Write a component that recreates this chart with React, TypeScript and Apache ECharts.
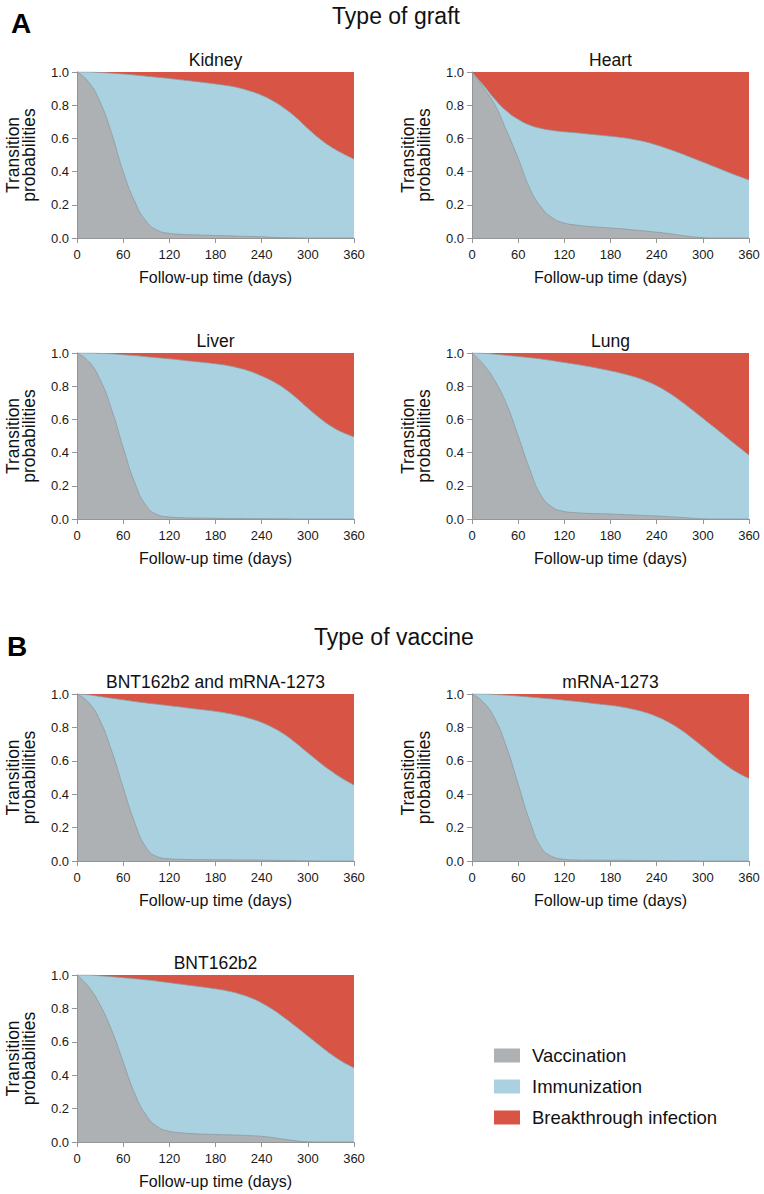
import React, { useEffect, useRef } from "react";
import * as echarts from "echarts";

// Follow-up time (days)
const days = [0, 15, 30, 45, 60, 75, 90, 105, 120, 135, 150, 165, 180, 195, 210, 225, 240, 255, 270, 285, 300, 315, 330, 345, 360];
const xTicks = [0, 60, 120, 180, 240, 300, 360];
const states = ["Vaccination", "Immunization", "Breakthrough infection"];

// Upper edge of the grey band (probability of still being in "Vaccination")
// and upper edge of the blue band (Vaccination + Immunization = not yet infected)
const kidneyVaccination = [1, 0.94, 0.82, 0.63, 0.4, 0.22, 0.1, 0.045, 0.028, 0.022, 0.019, 0.017, 0.015, 0.013, 0.011, 0.009, 0.007, 0.004, 0.002, 0.001, 0, 0, 0, 0, 0];
const kidneyNotInfected = [1, 1, 0.997, 0.993, 0.988, 0.982, 0.975, 0.968, 0.961, 0.953, 0.945, 0.937, 0.928, 0.918, 0.905, 0.885, 0.86, 0.825, 0.78, 0.725, 0.66, 0.6, 0.55, 0.51, 0.475];

const heartVaccination = [1, 0.905, 0.8, 0.645, 0.48, 0.3, 0.185, 0.12, 0.09, 0.078, 0.07, 0.065, 0.06, 0.055, 0.048, 0.042, 0.035, 0.027, 0.017, 0.008, 0.002, 0, 0, 0, 0];
const heartNotInfected = [1, 0.92, 0.835, 0.765, 0.715, 0.68, 0.66, 0.648, 0.64, 0.634, 0.627, 0.62, 0.613, 0.605, 0.594, 0.58, 0.56, 0.537, 0.512, 0.485, 0.458, 0.43, 0.402, 0.375, 0.35];

const liverVaccination = [1, 0.95, 0.84, 0.66, 0.43, 0.22, 0.08, 0.025, 0.012, 0.008, 0.006, 0.005, 0.004, 0.003, 0.003, 0.002, 0.002, 0.001, 0.001, 0, 0, 0, 0, 0, 0];
const liverNotInfected = [1, 1, 0.998, 0.995, 0.99, 0.985, 0.978, 0.972, 0.965, 0.958, 0.95, 0.943, 0.935, 0.925, 0.91, 0.89, 0.862, 0.828, 0.785, 0.73, 0.668, 0.61, 0.56, 0.522, 0.495];

const lungVaccination = [1, 0.93, 0.83, 0.69, 0.5, 0.3, 0.14, 0.07, 0.045, 0.038, 0.034, 0.032, 0.03, 0.027, 0.024, 0.021, 0.018, 0.014, 0.01, 0.005, 0.001, 0, 0, 0, 0];
const lungNotInfected = [1, 0.998, 0.993, 0.986, 0.979, 0.972, 0.964, 0.954, 0.943, 0.932, 0.92, 0.907, 0.893, 0.877, 0.858, 0.834, 0.803, 0.763, 0.715, 0.662, 0.607, 0.552, 0.496, 0.44, 0.385];

const bothVaccination = [1, 0.95, 0.84, 0.66, 0.44, 0.23, 0.08, 0.025, 0.013, 0.01, 0.009, 0.008, 0.007, 0.007, 0.006, 0.006, 0.005, 0.004, 0.003, 0.002, 0.001, 0, 0, 0, 0];
const bothNotInfected = [1, 0.995, 0.985, 0.975, 0.965, 0.955, 0.946, 0.938, 0.93, 0.922, 0.913, 0.905, 0.896, 0.885, 0.871, 0.853, 0.83, 0.798, 0.757, 0.705, 0.648, 0.592, 0.54, 0.494, 0.455];

const mrnaVaccination = [1, 0.95, 0.85, 0.68, 0.46, 0.24, 0.08, 0.025, 0.01, 0.006, 0.005, 0.005, 0.004, 0.004, 0.003, 0.003, 0.002, 0.002, 0.001, 0.001, 0, 0, 0, 0, 0];
const mrnaNotInfected = [1, 1, 0.997, 0.993, 0.988, 0.982, 0.976, 0.97, 0.963, 0.956, 0.948, 0.94, 0.932, 0.922, 0.908, 0.89, 0.865, 0.832, 0.79, 0.74, 0.685, 0.628, 0.575, 0.53, 0.495];

const bntVaccination = [1, 0.93, 0.82, 0.67, 0.48, 0.29, 0.16, 0.09, 0.064, 0.055, 0.05, 0.047, 0.045, 0.043, 0.041, 0.038, 0.034, 0.026, 0.016, 0.007, 0.001, 0, 0, 0, 0];
const bntNotInfected = [1, 1, 0.995, 0.99, 0.984, 0.978, 0.971, 0.963, 0.954, 0.945, 0.936, 0.927, 0.917, 0.905, 0.888, 0.865, 0.833, 0.792, 0.743, 0.69, 0.635, 0.58, 0.527, 0.481, 0.445];

const FONT = "'Liberation Sans', Arial, Helvetica, sans-serif";
const COLORS = ["#aeb1b4", "#aad1e0", "#d85444"];
const EDGE = "#8e999f";
const AXIS = "#959595";

const panels = [
  { title: "Kidney", vacc: kidneyVaccination, upper: kidneyNotInfected, left: 77, top: 72, height: 166 },
  { title: "Heart", vacc: heartVaccination, upper: heartNotInfected, left: 472, top: 72, height: 166 },
  { title: "Liver", vacc: liverVaccination, upper: liverNotInfected, left: 77, top: 353, height: 166 },
  { title: "Lung", vacc: lungVaccination, upper: lungNotInfected, left: 472, top: 353, height: 166 },
  { title: "BNT162b2 and mRNA-1273", vacc: bothVaccination, upper: bothNotInfected, left: 77, top: 694, height: 167 },
  { title: "mRNA-1273", vacc: mrnaVaccination, upper: mrnaNotInfected, left: 472, top: 694, height: 167 },
  { title: "BNT162b2", vacc: bntVaccination, upper: bntNotInfected, left: 77, top: 975, height: 167 },
];
const PW = 277;

export default function App() {
  const ref = useRef<HTMLDivElement>(null);
  useEffect(() => {
    if (!ref.current) return;
    const chart = echarts.init(ref.current, undefined, { renderer: "svg" });
    const grids: any[] = [];
    const xAxes: any[] = [];
    const yAxes: any[] = [];
    const series: any[] = [];
    const graphics: any[] = [];

    panels.forEach((p, i) => {
      grids.push({ left: p.left, top: p.top, width: PW, height: p.height, containLabel: false, outerBoundsMode: "none" });
      xAxes.push({
        type: "value", gridIndex: i, min: xTicks[0], max: xTicks[xTicks.length - 1], interval: 60,
        axisLine: { show: true, onZero: false, lineStyle: { color: AXIS, width: 1 } },
        axisTick: { show: true, length: 5, lineStyle: { color: AXIS } },
        splitLine: { show: false },
        axisLabel: { fontSize: 13, color: "#1a1a1a", fontFamily: FONT, margin: 10 },
        name: "Follow-up time (days)", nameLocation: "middle", nameGap: 31,
        nameTextStyle: { fontSize: 16, color: "#111", fontFamily: FONT },
        z: 5,
      });
      yAxes.push({
        type: "value", gridIndex: i, min: 0, max: 1, interval: 0.2,
        axisLine: { show: true, lineStyle: { color: AXIS, width: 1 } },
        axisTick: { show: true, length: 5, lineStyle: { color: AXIS } },
        splitLine: { show: false },
        axisLabel: { fontSize: 13, color: "#1a1a1a", fontFamily: FONT, margin: 8, formatter: (v: number) => v.toFixed(1) },
        name: "Transition\nprobabilities", nameLocation: "middle", nameGap: 40,
        nameTextStyle: { fontSize: 17.5, lineHeight: 16, color: "#111", fontFamily: FONT },
        z: 5,
      });
      // state occupation probabilities
      const vaccination = p.vacc;
      const immunization = p.upper.map((u, k) => u - p.vacc[k]);
      const infection = p.upper.map((u) => 1 - u);
      // cumulative upper edges, drawn back to front: red (all states), blue, grey
      const edges = [
        vaccination.map((v, k) => v + immunization[k] + infection[k]),
        vaccination.map((v, k) => v + immunization[k]),
        vaccination,
      ];
      const stateIndex = [2, 1, 0];
      edges.forEach((arr, e) => {
        const s = stateIndex[e];
        series.push({
          type: "line", name: states[s], xAxisIndex: i, yAxisIndex: i,
          smooth: 0.5, symbol: "none", showSymbol: false, silent: true,
          data: days.map((d, k) => [d, arr[k]]),
          lineStyle: { width: s === 2 ? 0 : 0.8, color: EDGE },
          itemStyle: { color: COLORS[s] },
          areaStyle: { color: COLORS[s], opacity: 1, origin: "start" },
          z: 2,
        });
      });
      graphics.push({
        type: "text", x: p.left + PW / 2, y: p.top - 12,
        style: { text: p.title, fontSize: 17.5, fontFamily: FONT, fill: "#111", align: "center", verticalAlign: "middle" },
      });
    });

    graphics.push(
      { type: "text", x: 21, y: 23, style: { text: "A", fontSize: 28, fontWeight: "bold", fontFamily: FONT, fill: "#000", align: "center", verticalAlign: "middle" } },
      { type: "text", x: 396, y: 16, style: { text: "Type of graft", fontSize: 23, fontFamily: FONT, fill: "#111", align: "center", verticalAlign: "middle" } },
      { type: "text", x: 17, y: 646, style: { text: "B", fontSize: 28, fontWeight: "bold", fontFamily: FONT, fill: "#000", align: "center", verticalAlign: "middle" } },
      { type: "text", x: 394, y: 637, style: { text: "Type of vaccine", fontSize: 23, fontFamily: FONT, fill: "#111", align: "center", verticalAlign: "middle" } },
    );

    chart.setOption({
      animation: false,
      backgroundColor: "#fff",
      grid: grids,
      xAxis: xAxes,
      yAxis: yAxes,
      series,
      graphic: graphics,
      legend: {
        data: states, orient: "vertical", left: 489, top: 1041, itemWidth: 26, itemHeight: 14, itemGap: 12,
        icon: "rect", selectedMode: false,
        textStyle: { fontSize: 18.5, color: "#111", fontFamily: FONT, padding: [0, 0, 0, 7] },
      },
    });
    return () => chart.dispose();
  }, []);
  return <div ref={ref} style={{ position: "absolute", left: 0, top: 0, width: 764, height: 1194, background: "#fff" }} />;
}
